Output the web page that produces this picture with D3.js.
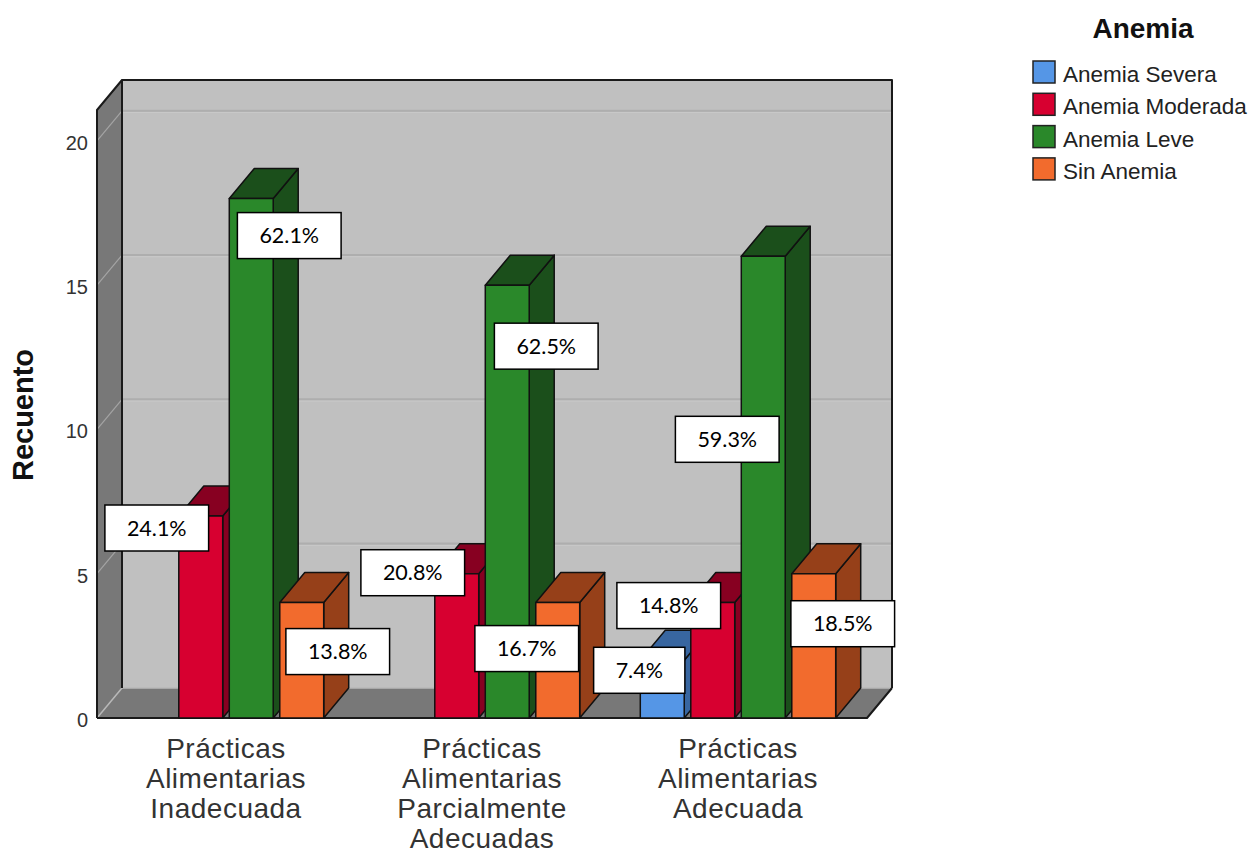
<!DOCTYPE html>
<html>
<head>
<meta charset="utf-8">
<script src="https://cdn.jsdelivr.net/npm/d3@7"></script>
<style>
html,body{margin:0;padding:0;background:#fff;}
svg{display:block;}
</style>
</head>
<body>
<svg id="chart" width="1258" height="854"></svg>
<script>
// ---- data ----
const categories = [
  ["Prácticas", "Alimentarias", "Inadecuada"],
  ["Prácticas", "Alimentarias", "Parcialmente", "Adecuadas"],
  ["Prácticas", "Alimentarias", "Adecuada"]
];
const seriesNames = ["Anemia Severa", "Anemia Moderada", "Anemia Leve", "Sin Anemia"];
const severa   = [0, 0, 2];
const moderada = [7, 5, 4];
const leve     = [18, 15, 16];
const sinAnemia= [4, 4, 5];
const pctSevera   = [null, null, "7.4%"];
const pctModerada = ["24.1%", "20.8%", "14.8%"];
const pctLeve     = ["62.1%", "62.5%", "59.3%"];
const pctSin      = ["13.8%", "16.7%", "18.5%"];
const yTicks = [0, 5, 10, 15, 20];
const yTitle = "Recuento";
const legendTitle = "Anemia";

// ---- layout / style ----
const frontColors = ["#5596e6", "#d70030", "#2a882a", "#f26b2d"];
const sideColors  = ["#3866a0", "#870021", "#1b4f1b", "#964019"];
// label box centre offsets relative to bar front-top centre (px) [group][series]
const labelOffsets = [
  [null, [-44, 12], [38, 37], [36, 49]],
  [null, [-44, -1], [39, 61], [-31, 46]],
  [[-23, 10], [-44, 3], [-36, 183], [29, 50]]
];
const DX = 25, DY = -30;
const X0 = 97, X1 = 867, Y0 = 718, YTOP = 110;

const valuesBySeries = [severa, moderada, leve, sinAnemia];
const pctBySeries = [pctSevera, pctModerada, pctLeve, pctSin];

const svg = d3.select("#chart");

const y = d3.scaleLinear().domain([0, 21.07]).range([Y0, YTOP]);
const xGroup = d3.scaleBand().domain(d3.range(categories.length)).range([X0 + 1, X1 - 1]).padding(0);
const xInner = d3.scaleBand().domain(d3.range(seriesNames.length))
  .range([0, xGroup.bandwidth()]).paddingInner(0.13).paddingOuter(0.6);

// walls
const g = svg.append("g");
g.append("rect").attr("x", X0 + DX).attr("y", YTOP + DY)
  .attr("width", X1 - X0).attr("height", Y0 - YTOP)
  .attr("fill", "#c0c0c0");
g.append("polygon")
  .attr("points", [[X0, Y0], [X0, YTOP], [X0 + DX, YTOP + DY], [X0 + DX, Y0 + DY]].join(" "))
  .attr("fill", "#787878");
g.append("polygon")
  .attr("points", [[X0, Y0], [X1, Y0], [X1 + DX, Y0 + DY], [X0 + DX, Y0 + DY]].join(" "))
  .attr("fill", "#787878");

// gridlines
yTicks.filter(t => t > 0).forEach(t => {
  const yy = y(t);
  g.append("line").attr("x1", X0 + DX).attr("x2", X1 + DX)
    .attr("y1", yy + DY).attr("y2", yy + DY)
    .attr("stroke", "#aeaeae").attr("stroke-width", 2.5);
  g.append("line").attr("x1", X0 + DX).attr("x2", X1 + DX)
    .attr("y1", yy + DY + 1.5).attr("y2", yy + DY + 1.5)
    .attr("stroke", "#cacaca").attr("stroke-width", 1);
  g.append("line").attr("x1", X0).attr("x2", X0 + DX)
    .attr("y1", yy).attr("y2", yy + DY)
    .attr("stroke", "#a4a4a4").attr("stroke-width", 1.2);
});
g.append("line").attr("x1", X0 + DX).attr("x2", X1 + DX).attr("y1", Y0 + DY).attr("y2", Y0 + DY)
  .attr("stroke", "#b8b8b8").attr("stroke-width", 1.5);
g.append("line").attr("x1", X0).attr("x2", X0 + DX).attr("y1", Y0).attr("y2", Y0 + DY)
  .attr("stroke", "#b8b8b8").attr("stroke-width", 1.5);
const edge = (pts) => g.append("polyline").attr("points", pts.join(" "))
  .attr("fill", "none").attr("stroke", "#1a1a1a").attr("stroke-width", 2).attr("stroke-linejoin", "round");
edge([[X0 + DX, Y0 + DY], [X0 + DX, YTOP + DY], [X1 + DX, YTOP + DY], [X1 + DX, Y0 + DY]]);
edge([[X0, Y0], [X0, YTOP], [X0 + DX, YTOP + DY]]);
edge([[X0, Y0], [X1, Y0], [X1 + DX, Y0 + DY]]);

// y tick labels
const yAxis = d3.axisLeft(y).tickValues(yTicks).tickSize(0).tickPadding(0);
const ya = svg.append("g").attr("transform", `translate(${88},0)`).call(yAxis);
ya.select(".domain").remove();
ya.selectAll("text").attr("font-family", "'Liberation Sans', Arial, sans-serif")
  .attr("font-size", 20).attr("fill", "#333").attr("dy", "0.42em");

// y title
svg.append("text").attr("transform", `translate(33,415) rotate(-90)`)
  .attr("text-anchor", "middle")
  .attr("font-family", "'Liberation Sans', Arial, sans-serif")
  .attr("font-weight", "bold").attr("font-size", 29).attr("fill", "#111")
  .text(yTitle);

// bars
const barsG = svg.append("g");
const barMeta = [];
categories.forEach((c, gi) => {
  valuesBySeries.forEach((vals, si) => {
    const v = vals[gi];
    const bx = xGroup(gi) + xInner(si);
    const bw = xInner.bandwidth();
    barMeta.push({gi, si, v, cx: bx + bw / 2, top: y(v)});
    if (!v) return;
    const yt = y(v), yb = y(0);
    const bg = barsG.append("g").attr("stroke", "#111").attr("stroke-width", 1.5).attr("stroke-linejoin", "round");
    bg.append("polygon").attr("points", [[bx + bw, yb], [bx + bw, yt], [bx + bw + DX, yt + DY], [bx + bw + DX, yb + DY]].join(" "))
      .attr("fill", sideColors[si]);
    bg.append("polygon").attr("points", [[bx, yt], [bx + bw, yt], [bx + bw + DX, yt + DY], [bx + DX, yt + DY]].join(" "))
      .attr("fill", sideColors[si]);
    bg.append("rect").attr("x", bx).attr("y", yt).attr("width", bw).attr("height", yb - yt)
      .attr("fill", frontColors[si]);
  });
});

// value labels
const labG = svg.append("g");
barMeta.forEach(b => {
  const txt = pctBySeries[b.si][b.gi];
  if (!txt) return;
  const off = labelOffsets[b.gi][b.si];
  const cx = b.cx + off[0], cy = b.top + off[1];
  const t = labG.append("text").attr("x", cx).attr("y", cy).attr("dy", "0.36em")
    .attr("text-anchor", "middle").attr("font-family", "Lato, 'Open Sans', sans-serif")
    .attr("font-size", 21.5).attr("fill", "#000").text(txt);
  const w = t.node().getComputedTextLength() + 44, h = 46;
  labG.insert("rect", "text").attr("x", cx - w / 2).attr("y", cy - h / 2).attr("width", w).attr("height", h)
    .attr("fill", "#fff").attr("stroke", "#000").attr("stroke-width", 1.5);
});
labG.selectAll("text").raise();

// category labels
categories.forEach((lines, gi) => {
  const cx = xGroup(gi) + xGroup.bandwidth() / 2;
  const t = svg.append("text").attr("text-anchor", "middle")
    .attr("font-family", "'Liberation Sans', Arial, sans-serif")
    .attr("font-size", 28).attr("letter-spacing", 0.5).attr("fill", "#333");
  lines.forEach((ln, i) => {
    t.append("tspan").attr("x", cx).attr("y", 758 + i * 30).text(ln);
  });
});

// legend
svg.append("text").attr("x", 1143).attr("y", 38).attr("text-anchor", "middle")
  .attr("font-family", "'Liberation Sans', Arial, sans-serif").attr("font-weight", "bold")
  .attr("font-size", 28).attr("fill", "#111").text(legendTitle);
seriesNames.forEach((name, i) => {
  const yy = 61 + i * 32.3;
  svg.append("rect").attr("x", 1033).attr("y", yy).attr("width", 22).attr("height", 22)
    .attr("fill", frontColors[i]).attr("stroke", "#222").attr("stroke-width", 1.5);
  svg.append("text").attr("x", 1063).attr("y", yy + 21)
    .attr("font-family", "'Liberation Sans', Arial, sans-serif").attr("font-size", 22.5)
    .attr("fill", "#222").text(name);
});
</script>
</body>
</html>
